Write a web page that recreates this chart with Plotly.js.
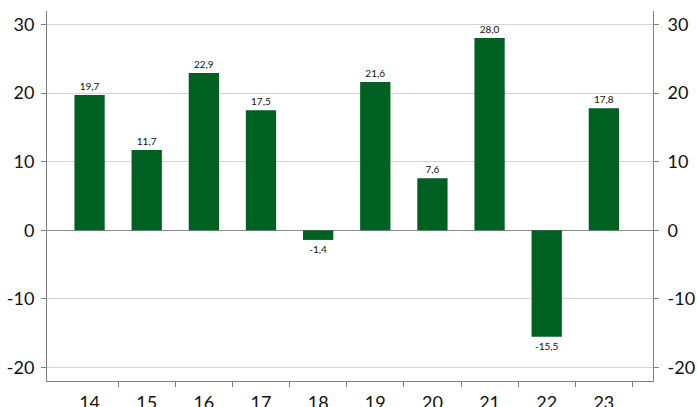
<!DOCTYPE html>
<html><head><meta charset="utf-8">
<script src="https://cdn.plot.ly/plotly-3.0.1.min.js"></script>
<style>html,body{margin:0;padding:0;background:#fff;}#chart{width:697px;height:407px;}</style>
</head><body><div id="chart"></div>
<script>
const categories = ["14","15","16","17","18","19","20","21","22","23"];
const values = [19.7, 11.7, 22.9, 17.5, -1.4, 21.6, 7.6, 28.0, -15.5, 17.8];
const yTicks = [-20, -10, 0, 10, 20, 30];
const yTickText = ["-20", "-10", "0", "10", "20", "30"];

const idx = categories.map((c, i) => i);
const labels = values.map(v => v.toFixed(1).replace('.', ','));
const boundaries = categories.map((c, i) => i + 0.5);
const xr = [-0.745, 9.86];
const yr = [-21.95, 31.95];
const font = "Lato, 'Liberation Sans', sans-serif";

const traces = [
  {type:'bar', x: idx, y: values, text: labels, textposition:'outside', cliponaxis:false,
   textfont:{size:10, color:'#111', family:font}, marker:{color:'#006022'}, width:0.53,
   hoverinfo:'skip', xaxis:'x', yaxis:'y'},
  {type:'scatter', x: xr, y: [0,0], mode:'none', showlegend:false, hoverinfo:'skip', xaxis:'x2', yaxis:'y2'}
];

const layout = {
  width:697, height:407, margin:{l:47, r:44, t:11, b:26},
  paper_bgcolor:'#fff', plot_bgcolor:'#fff', showlegend:false,
  font:{family:font, size:18, color:'#111'},
  xaxis:{range:xr, tickvals: idx, ticktext: categories, ticks:'', showgrid:false, zeroline:false,
         showline:true, linecolor:'#808080', linewidth:1, tickfont:{size:18}, ticklabelstandoff:5},
  xaxis2:{overlaying:'x', range:xr, tickvals: boundaries, showticklabels:false, ticks:'outside',
          ticklen:5, tickcolor:'#808080', showgrid:false, zeroline:false, showline:false, anchor:'y'},
  yaxis:{range:yr, tickvals:yTicks, ticktext:yTickText, ticks:'outside', ticklen:5, tickcolor:'#808080',
         showline:true, linecolor:'#808080', linewidth:1, gridcolor:'#d4d4d4', gridwidth:1,
         zeroline:true, zerolinecolor:'#8c8c8c', zerolinewidth:1, tickfont:{size:18}, ticklabelstandoff:3},
  yaxis2:{overlaying:'y', side:'right', range:yr, tickvals:yTicks, ticktext:yTickText, ticks:'outside', ticklen:5,
          tickcolor:'#808080', showline:true, linecolor:'#808080', linewidth:1, showgrid:false,
          zeroline:false, tickfont:{size:18}, anchor:'x', ticklabelstandoff:5}
};
Plotly.newPlot('chart', traces, layout, {staticPlot:true, displayModeBar:false});
</script></body></html>
